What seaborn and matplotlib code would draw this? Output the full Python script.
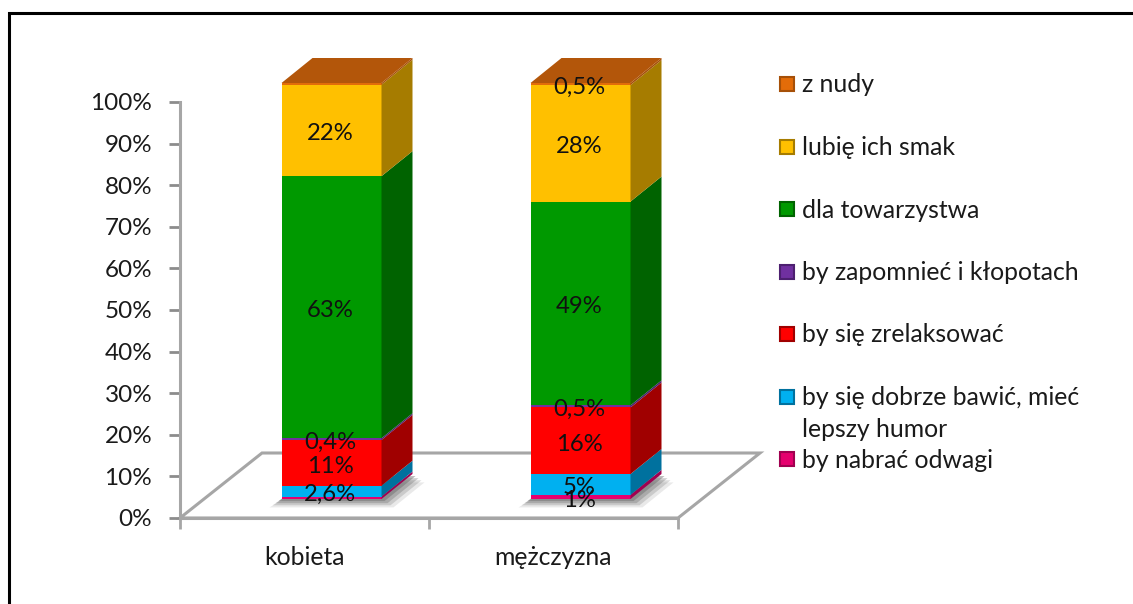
import matplotlib
matplotlib.use("Agg")
import matplotlib.pyplot as plt
from matplotlib.patches import Rectangle, Polygon
from matplotlib.transforms import Affine2D
import numpy as np
import seaborn as sns

# data, bottom segment first
categories = ["kobieta", "mężczyzna"]
series_names = [
    "by nabrać odwagi",
    "by się dobrze bawić, mieć\nlepszy humor",
    "by się zrelaksować",
    "by zapomnieć i kłopotach",
    "dla towarzystwa",
    "lubię ich smak",
    "z nudy",
]
nabrac = [0.6, 1.0]
bawic = [2.6, 5.0]
relaks = [11.0, 16.0]
zapomniec = [0.4, 0.5]
towarzystwo = [63.0, 49.0]
smak = [22.0, 28.0]
nuda = [0.4, 0.5]
value_labels = [
    [None, "1%"],
    ["2,6%", "5%"],
    ["11%", "16%"],
    ["0,4%", "0,5%"],
    ["63%", "49%"],
    ["22%", "28%"],
    [None, "0,5%"],
]
y_ticks = [0, 10, 20, 30, 40, 50, 60, 70, 80, 90, 100]

front_colors = ["#E5006E", "#00B0F0", "#FF0000", "#7030A0", "#009900", "#FFC000", "#E36C09"]
side_colors = ["#A00050", "#00719E", "#A00000", "#4D2070", "#006300", "#A67C00", "#A65008"]

W, H = 1133, 604
sns.set_theme(style="white")
plt.rcParams["font.family"] = ["Lato", "DejaVu Sans"]

fig = plt.figure(figsize=(W / 100, H / 100), dpi=100)
# axes rectangle: x 180..678, y 102..518 in image pixels
ax = fig.add_axes([180 / W, 1 - 518 / H, 498 / W, 416 / H])
ax.patch.set_alpha(0)

px_x = 2 / 498  # data per pixel
px_y = 100 / 416
bar_width = 100 * px_x
depth_x, depth_y = 31 * px_x, 25 * px_y

# bars stand back on the floor, so shift them in pixels
bar_shift = ax.transData + Affine2D().translate(27, 19)

all_series = [nabrac, bawic, relaks, zapomniec, towarzystwo, smak, nuda]
x_pos = np.arange(len(categories))
bottom = np.zeros(len(categories))

# floor
floor_pts = [(-0.5, 0), (-0.5 + 82 * px_x, 65 * px_y), (1.5 + 82 * px_x, 65 * px_y), (1.5, 0)]
ax.add_patch(Polygon(floor_pts, closed=True, facecolor="white", edgecolor="#A6A6A6",
                     lw=2.2, clip_on=False, zorder=0))

# soft shadow under the bars, a few grown copies of the footprint
for x in x_pos:
    l, r = x - bar_width / 2, x + bar_width / 2
    for grow, alpha in [(12, 0.15), (9, 0.25), (6, 0.35), (3, 0.5)]:
        gx, gy = grow * px_x, grow * px_y * 0.7
        foot = [(l - gx, -gy), (r + gx, -gy),
                (r + depth_x + gx, depth_y - gy), (l + depth_x, depth_y - gy)]
        ax.add_patch(Polygon(foot, closed=True, facecolor="#707070", alpha=alpha,
                             edgecolor="none", transform=bar_shift, clip_on=False, zorder=1))

for i, values in enumerate(all_series):
    values = np.array(values)
    sns.barplot(x=categories, y=values, bottom=bottom, color=front_colors[i], saturation=1,
                width=bar_width, linewidth=0, transform=bar_shift, clip_on=False, zorder=3, ax=ax)
    for j in x_pos:
        r = j + bar_width / 2
        lo, hi = bottom[j], bottom[j] + values[j]
        side = [(r, lo), (r + depth_x, lo + depth_y), (r + depth_x, hi + depth_y), (r, hi)]
        ax.add_patch(Polygon(side, closed=True, facecolor=side_colors[i], edgecolor="none",
                             transform=bar_shift, clip_on=False, zorder=3))
    bottom = bottom + values

# top faces
for j in x_pos:
    l, r, t = j - bar_width / 2, j + bar_width / 2, bottom[j]
    top = [(l, t), (r, t), (r + depth_x, t + depth_y), (l + depth_x, t + depth_y)]
    ax.add_patch(Polygon(top, closed=True, facecolor="#B3560A", edgecolor="none",
                         transform=bar_shift, clip_on=False, zorder=3))

# value labels, centred on each segment (5% and 1% do touch, as in the original)
bottom = np.zeros(len(categories))
for i, values in enumerate(all_series):
    for j in x_pos:
        txt = value_labels[i][j]
        if txt:
            ax.text(j - 0.005, bottom[j] + values[j] / 2 - 0.8, txt, ha="center", va="center",
                    fontsize=17.2, color="#111111", transform=bar_shift, clip_on=False, zorder=5)
    bottom = bottom + np.array(values)

# axes
ax.set_xlim(-0.5, 1.5)
ax.set_ylim(0, 100)
ax.set_yticks(y_ticks)
ax.set_yticklabels([f"{v}%" for v in y_ticks], fontsize=17.5, color="#1a1a1a")
ax.set_xticks([-0.5, 0.5, 1.5], minor=False)
ax.set_xticklabels([])
ax.set_xticks(x_pos, minor=True)
ax.set_xticklabels(categories, minor=True, fontsize=17.8, color="#1a1a1a")
ax.tick_params(axis="y", length=8, width=2, color="#8C8C8C", pad=12, left=True)
ax.tick_params(axis="x", which="major", length=8, width=2, color="#A6A6A6", bottom=True)
ax.tick_params(axis="x", which="minor", length=0, pad=20)
ax.set_xlabel("")
ax.set_ylabel("")
for s in ["top", "right"]:
    ax.spines[s].set_visible(False)
for s in ["left", "bottom"]:
    ax.spines[s].set_color("#A6A6A6")
    ax.spines[s].set_linewidth(2.2)

# legend, one row per series, top one first
legend_y = 84
legend_step = 62.5
for i, name in enumerate(series_names[::-1]):
    y = legend_y + i * legend_step
    c = front_colors[::-1][i]
    edge = side_colors[::-1][i]
    fig.add_artist(Rectangle((780 / W, 1 - (y + 7) / H), 14 / W, 14 / H, facecolor=c,
                             edgecolor=edge, lw=1.5, transform=fig.transFigure))
    fig.text(802 / W, 1 - (y + 1) / H, name.split("\n")[0], fontsize=17.8, va="center",
             color="#1a1a1a")
    if "\n" in name:
        fig.text(802 / W, 1 - (y + 33) / H, name.split("\n")[1], fontsize=17.8, va="center",
                 color="#1a1a1a")

# black frame: left and top only, running off the picture
fig.add_artist(plt.Line2D([8.5 / W, 8.5 / W, 1], [0, 1 - 12.5 / H, 1 - 12.5 / H],
                          color="black", lw=2.2, solid_joinstyle="miter",
                          transform=fig.transFigure))

fig.savefig("out.png", dpi=100, facecolor="white")
